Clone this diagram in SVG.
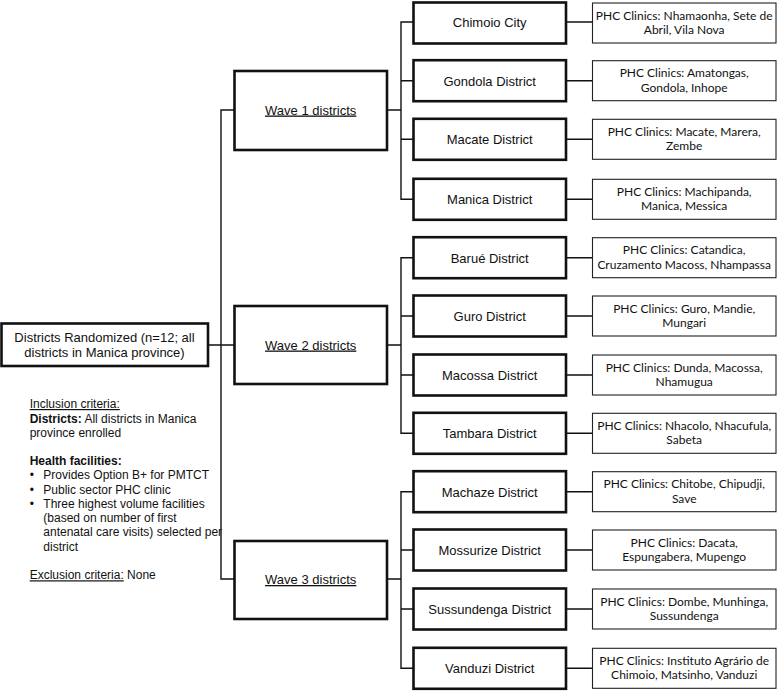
<svg xmlns="http://www.w3.org/2000/svg" width="779" height="695" viewBox="0 0 779 695">
<style>
.thick{fill:#fff;stroke:#111;stroke-width:2.6}
.thin{fill:#fff;stroke:#222;stroke-width:1.1}
.conn{fill:none;stroke:#111;stroke-width:1.4}
.arial{font-family:"Liberation Sans",Arial,sans-serif;fill:#111}
.cal{font-family:Lato,"Noto Sans",sans-serif;font-size:12px;fill:#111}
.dist{font-size:13px}
.u{text-decoration:underline}
</style>
<rect width="779" height="695" fill="#fff"/>
<g id="connectors">
<path class="conn" d="M208 345H234M234 110H221V579H234"/>
<path class="conn" d="M387 110H401M413.5 22H401V199.3H413.5M401 80.7H413.5M401 139.3H413.5"/>
<path class="conn" d="M387 345H401M413.5 257.7H401V433.3H413.5M401 316H413.5M401 375H413.5"/>
<path class="conn" d="M387 579H401M413.5 491.7H401V668.3H413.5M401 550H413.5M401 609H413.5"/>
<path class="conn" d="M566 22H592.5M566 80.7H592.5M566 139.3H592.5M566 199.3H592.5M566 257.7H592.5M566 316H592.5M566 375H592.5M566 433.3H592.5M566 491.7H592.5M566 550H592.5M566 609H592.5M566 668.3H592.5"/>
</g>
<g id="root">
<rect class="thick" x="1.5" y="323.5" width="206.5" height="42.5"/>
<text class="arial" font-size="13" text-anchor="middle" x="104.5" y="341.5">Districts Randomized (n=12; all</text>
<text class="arial" font-size="13" text-anchor="middle" x="104.5" y="356.5">districts in Manica province)</text>
</g>
<g id="criteria" class="arial" font-size="12">
<text x="29.7" y="408" class="u">Inclusion criteria:</text>
<text x="29.7" y="422.5"><tspan font-weight="bold">Districts:</tspan> All districts in Manica</text>
<text x="29.7" y="436.7">province enrolled</text>
<text x="29.7" y="465" font-weight="bold">Health facilities:</text>
<text x="29.7" y="479.3">•</text><text x="43.3" y="479.3">Provides Option B+ for PMTCT</text>
<text x="29.7" y="493.7">•</text><text x="43.3" y="493.7">Public sector PHC clinic</text>
<text x="29.7" y="507.7">•</text><text x="43.3" y="507.7">Three highest volume facilities</text>
<text x="43.3" y="522">(based on number of first</text>
<text x="43.3" y="536.3">antenatal care visits) selected per</text>
<text x="43.3" y="550.7">district</text>
<text x="29.7" y="579.3"><tspan class="u">Exclusion criteria:</tspan> None</text>
</g>
<g id="wave1"><rect class="thick" x="234.5" y="71" width="152.5" height="79"/><text class="arial dist u" text-anchor="middle" x="310.7" y="114.5">Wave 1 districts</text></g>
<g id="wave2"><rect class="thick" x="234.5" y="306" width="152.5" height="78"/><text class="arial dist u" text-anchor="middle" x="310.7" y="349.5">Wave 2 districts</text></g>
<g id="wave3"><rect class="thick" x="234.5" y="541" width="152.5" height="78"/><text class="arial dist u" text-anchor="middle" x="310.7" y="584">Wave 3 districts</text></g>

<g id="d1"><rect class="thick" x="413.5" y="2.5" width="152.5" height="41"/><text class="arial dist" text-anchor="middle" x="489.7" y="27">Chimoio City</text></g>
<g id="d2"><rect class="thick" x="413.5" y="60.2" width="152.5" height="41"/><text class="arial dist" text-anchor="middle" x="489.7" y="85.7">Gondola District</text></g>
<g id="d3"><rect class="thick" x="413.5" y="118.8" width="152.5" height="41"/><text class="arial dist" text-anchor="middle" x="489.7" y="144.3">Macate District</text></g>
<g id="d4"><rect class="thick" x="413.5" y="178.8" width="152.5" height="41"/><text class="arial dist" text-anchor="middle" x="489.7" y="204.3">Manica District</text></g>
<g id="d5"><rect class="thick" x="413.5" y="237.2" width="152.5" height="41"/><text class="arial dist" text-anchor="middle" x="489.7" y="262.7">Barué District</text></g>
<g id="d6"><rect class="thick" x="413.5" y="295.5" width="152.5" height="41"/><text class="arial dist" text-anchor="middle" x="489.7" y="321">Guro District</text></g>
<g id="d7"><rect class="thick" x="413.5" y="354.5" width="152.5" height="41"/><text class="arial dist" text-anchor="middle" x="489.7" y="380">Macossa District</text></g>
<g id="d8"><rect class="thick" x="413.5" y="412.8" width="152.5" height="41"/><text class="arial dist" text-anchor="middle" x="489.7" y="438.3">Tambara District</text></g>
<g id="d9"><rect class="thick" x="413.5" y="471.2" width="152.5" height="41"/><text class="arial dist" text-anchor="middle" x="489.7" y="496.7">Machaze District</text></g>
<g id="d10"><rect class="thick" x="413.5" y="529.5" width="152.5" height="41"/><text class="arial dist" text-anchor="middle" x="489.7" y="555">Mossurize District</text></g>
<g id="d11"><rect class="thick" x="413.5" y="588.5" width="152.5" height="41"/><text class="arial dist" text-anchor="middle" x="489.7" y="614">Sussundenga District</text></g>
<g id="d12"><rect class="thick" x="413.5" y="647.8" width="152.5" height="41"/><text class="arial dist" text-anchor="middle" x="489.7" y="673.3">Vanduzi District</text></g>

<g id="c1"><rect class="thin" x="592.5" y="3" width="183.5" height="40"/><text class="cal" text-anchor="middle" x="684.2" y="19.5">PHC Clinics: Nhamaonha, Sete de</text><text class="cal" text-anchor="middle" x="684.2" y="34">Abril, Vila Nova</text></g>
<g id="c2"><rect class="thin" x="592.5" y="60.7" width="183.5" height="40"/><text class="cal" text-anchor="middle" x="684.2" y="77.2">PHC Clinics: Amatongas,</text><text class="cal" text-anchor="middle" x="684.2" y="91.7">Gondola, Inhope</text></g>
<g id="c3"><rect class="thin" x="592.5" y="119.3" width="183.5" height="40"/><text class="cal" text-anchor="middle" x="684.2" y="135.8">PHC Clinics: Macate, Marera,</text><text class="cal" text-anchor="middle" x="684.2" y="150.3">Zembe</text></g>
<g id="c4"><rect class="thin" x="592.5" y="179.3" width="183.5" height="40"/><text class="cal" text-anchor="middle" x="684.2" y="195.8">PHC Clinics: Machipanda,</text><text class="cal" text-anchor="middle" x="684.2" y="210.3">Manica, Messica</text></g>
<g id="c5"><rect class="thin" x="592.5" y="237.7" width="183.5" height="40"/><text class="cal" text-anchor="middle" x="684.2" y="254.2">PHC Clinics: Catandica,</text><text class="cal" text-anchor="middle" x="684.2" y="268.7">Cruzamento Macoss, Nhampassa</text></g>
<g id="c6"><rect class="thin" x="592.5" y="296" width="183.5" height="40"/><text class="cal" text-anchor="middle" x="684.2" y="312.5">PHC Clinics: Guro, Mandie,</text><text class="cal" text-anchor="middle" x="684.2" y="327">Mungari</text></g>
<g id="c7"><rect class="thin" x="592.5" y="355" width="183.5" height="40"/><text class="cal" text-anchor="middle" x="684.2" y="371.5">PHC Clinics: Dunda, Macossa,</text><text class="cal" text-anchor="middle" x="684.2" y="386">Nhamugua</text></g>
<g id="c8"><rect class="thin" x="592.5" y="413.3" width="183.5" height="40"/><text class="cal" text-anchor="middle" x="684.2" y="429.8">PHC Clinics: Nhacolo, Nhacufula,</text><text class="cal" text-anchor="middle" x="684.2" y="444.3">Sabeta</text></g>
<g id="c9"><rect class="thin" x="592.5" y="471.7" width="183.5" height="40"/><text class="cal" text-anchor="middle" x="684.2" y="488.2">PHC Clinics: Chitobe, Chipudji,</text><text class="cal" text-anchor="middle" x="684.2" y="502.7">Save</text></g>
<g id="c10"><rect class="thin" x="592.5" y="530" width="183.5" height="40"/><text class="cal" text-anchor="middle" x="684.2" y="546.5">PHC Clinics: Dacata,</text><text class="cal" text-anchor="middle" x="684.2" y="561">Espungabera, Mupengo</text></g>
<g id="c11"><rect class="thin" x="592.5" y="589" width="183.5" height="40"/><text class="cal" text-anchor="middle" x="684.2" y="605.5">PHC Clinics: Dombe, Munhinga,</text><text class="cal" text-anchor="middle" x="684.2" y="620">Sussundenga</text></g>
<g id="c12"><rect class="thin" x="592.5" y="648.3" width="183.5" height="40"/><text class="cal" text-anchor="middle" x="684.2" y="664.8">PHC Clinics: Instituto Agrário de</text><text class="cal" text-anchor="middle" x="684.2" y="679.3">Chimoio, Matsinho, Vanduzi</text></g>
</svg>
